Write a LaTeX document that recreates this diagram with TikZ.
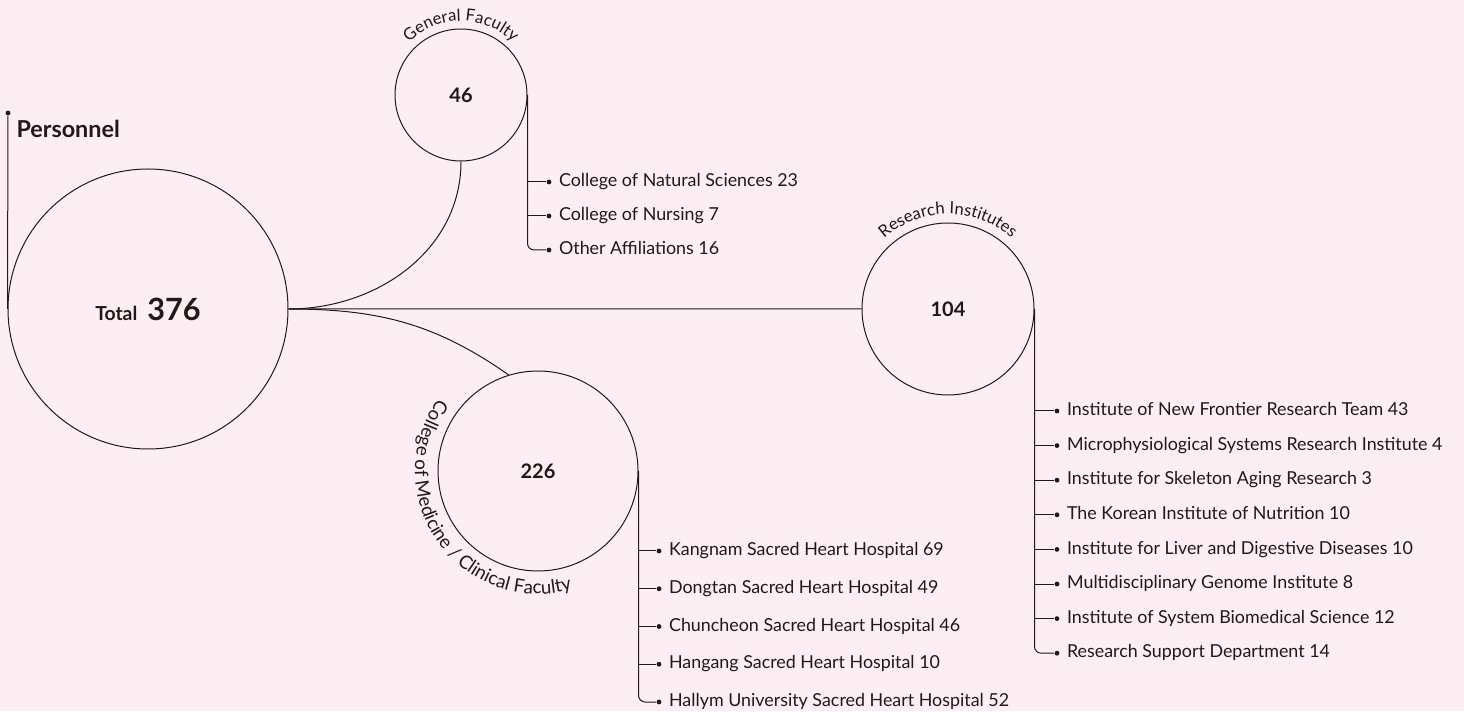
\documentclass[tikz,border=0pt]{standalone}
\usepackage{fontspec}
\setmainfont{Lato}
\usepackage{xcolor}
\usetikzlibrary{positioning, decorations.text}

\definecolor{ink}{HTML}{231815}
\definecolor{blush}{HTML}{FDEEF4}

\tikzset{
    bubble/.style={circle, draw=ink, inner sep=0pt, font=\bfseries\fontsize{15}{16}\selectfont},
    dot/.style={circle, fill=ink, inner sep=0pt, minimum size=3.6pt},
    item/.style={inner sep=0pt, text height=9pt, text depth=2pt, font=\fontsize{13.4}{14}\selectfont},
    arclabel/.style 2 args={decorate, decoration={text along path, text align=center,
        text={|\fontsize{#1}{14}\selectfont\color{ink}|#2}}},
}

\begin{document}
\begin{tikzpicture}[x=0.75pt, y=0.75pt, line width=0.75pt, draw=ink, text=ink]
    \fill[blush] (0,0) rectangle (1464,711);
    \useasboundingbox (0,0) rectangle (1464,711);

    % circles
    \node[bubble, minimum size=210pt] (total) at (148,402)
        {{\fontsize{14.5}{15}\selectfont Total}\enspace{\fontsize{23}{24}\selectfont 376}};
    \node[bubble, minimum size=99pt]  (gen) at (461,616) {46};
    \node[bubble, minimum size=129pt] (res) at (948,402) {104};
    \node[bubble, minimum size=150pt] (med) at (538,240) {226};

    \node[dot] (pdot) at (8,598) {};
    \node[anchor=base west, inner sep=0pt, font=\bfseries\fontsize{17.5}{18}\selectfont] (personnel) at (16,573) {Personnel};

    \draw (pdot) -- (total.west)
        (total.east) edge[out=0, in=-90] (gen.south)
        (total.east) edge[out=0, in=145] (med.107)
        (total.east) -- (res.west);

    % labels round the circles
    \path[arclabel={12.5}{General Faculty}] ([shift={(150:74)}]gen.center) arc[start angle=150, end angle=30, radius=74];
    \path[arclabel={12.5}{Research Institutes}] ([shift={(150:95)}]res.center) arc[start angle=150, end angle=30, radius=95];
    \path[arclabel={14}{College of Medicine / Clinical Faculty}] ([shift={(120:123)}]med.center) arc[start angle=120, end angle=310, radius=123];

    % branches
    \foreach \t [count=\i] in {College of Natural Sciences 23, College of Nursing 7, Other Affiliations 16} {
        \node[dot] (gd\i) at (549, 563-34*\i) {};
        \node[item, right=5pt of gd\i] (g\i) {\t};
    }
    \foreach \t [count=\i] in {Kangnam Sacred Heart Hospital 69, Dongtan Sacred Heart Hospital 49,
        Chuncheon Sacred Heart Hospital 46, Hangang Sacred Heart Hospital 10,
        Hallym University Sacred Heart Hospital 52} {
        \node[dot] (md\i) at (659, 197.75-37.75*\i) {};
        \node[item, right=5pt of md\i] (m\i) {\t};
    }
    \foreach \t [count=\i] in {Institute of New Frontier Research Team 43,
        Microphysiological Systems Research Institute 4, Institute for Skeleton Aging Research 3,
        The Korean Institute of Nutrition 10, Institute for Liver and Digestive Diseases 10,
        Multidisciplinary Genome Institute 8, Institute of System Biomedical Science 12,
        Research Support Department 14} {
        \node[dot] (rd\i) at (1057, 334.6-34.6*\i) {};
        \node[item, right=5pt of rd\i] (r\i) {\t};
    }

    \foreach \i in {1,2} \draw (gen.east |- gd\i) -- (gd\i);
    \foreach \i in {1,...,4} \draw (med.east |- md\i) -- (md\i);
    \foreach \i in {1,...,7} \draw (res.east |- rd\i) -- (rd\i);
    \draw[rounded corners=5] (gen.east) |- (gd3);
    \draw[rounded corners=5] (med.east) |- (md5);
    \draw[rounded corners=5] (res.east) |- (rd8);
\end{tikzpicture}
\end{document}
